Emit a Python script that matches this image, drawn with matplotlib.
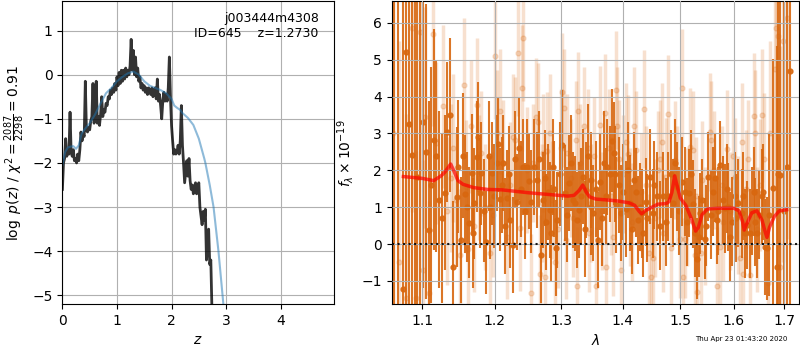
import matplotlib
matplotlib.use("Agg")
import matplotlib.pyplot as plt
from matplotlib.ticker import FixedLocator, FixedFormatter, NullLocator

# ---- left panel: log p(z) ----
z_grid = [0.00, 0.02, 0.04, 0.06, 0.08, 0.10, 0.12, 0.14, 0.16, 0.18,
          0.20, 0.22, 0.24, 0.26, 0.28, 0.30, 0.32, 0.34, 0.36, 0.38,
          0.40, 0.42, 0.44, 0.46, 0.48, 0.50, 0.52, 0.54, 0.56, 0.58,
          0.60, 0.62, 0.64, 0.66, 0.68, 0.70, 0.72, 0.74, 0.76, 0.78,
          0.80, 0.82, 0.84, 0.86, 0.88, 0.90, 0.92, 0.94, 0.96, 0.98,
          1.00, 1.02, 1.04, 1.06, 1.08, 1.10, 1.12, 1.14, 1.16, 1.18,
          1.20, 1.22, 1.24, 1.26, 1.28, 1.30, 1.32, 1.34, 1.36, 1.38,
          1.40, 1.42, 1.44, 1.46, 1.48, 1.50, 1.52, 1.54, 1.56, 1.58,
          1.60, 1.62, 1.64, 1.66, 1.68, 1.70, 1.72, 1.74, 1.76, 1.78,
          1.80, 1.82, 1.84, 1.86, 1.88, 1.90, 1.92, 1.94, 1.96, 1.98,
          2.00, 2.02, 2.04, 2.06, 2.08, 2.10, 2.12, 2.14, 2.16, 2.18,
          2.20, 2.22, 2.24, 2.26, 2.28, 2.30, 2.32, 2.34, 2.36, 2.38,
          2.40, 2.42, 2.44, 2.46, 2.48, 2.50, 2.52, 2.54, 2.56, 2.58,
          2.60, 2.62, 2.64, 2.66, 2.68, 2.70, 2.72, 2.74, 2.76]
logpz = [-2.6, -2.0, -1.9, -1.45, -1.85, -1.7, -1.8, -0.85, -1.75, -1.85,
         -1.7, -1.95, -1.9, -2.0, -1.8, -1.95, -1.7, -1.3, -1.5, -1.35,
         -1.4, -0.15, -1.25, -1.3, -1.2, -1.25, -1.05, -0.95, -0.2, -1.1,
         -1.0, -0.15, -1.1, -0.95, -1.15, -0.9, -0.5, -0.95, -0.8, -0.85,
         -0.65, -0.7, -0.5, -0.55, -0.35, -0.45, -0.3, -0.4, -0.2, -0.35,
         -0.05, -0.25, 0.05, -0.2, 0.1, -0.15, 0.1, -0.1, 0.15, -0.05,
         0.1, 0.0, 0.2, 0.8, 0.1, 0.55, 0.0, 0.4, -0.05, 0.15,
         -0.15, -0.05, -0.3, -0.2, -0.35, -0.25, -0.4, -0.3, -0.45, -0.3,
         -0.35, -0.45, -0.3, -0.5, -0.35, -0.3, -0.55, -0.1, -0.6, -0.45,
         -0.7, -1.0, -0.6, -0.4, -0.6, -0.45, -0.6, -0.3, 0.4, -0.5,
         -1.15, -1.5, -1.8, -1.7, -1.8, -1.75, -1.6, -1.8, -1.5, -0.7,
         -1.6, -2.0, -2.45, -2.2, -1.95, -2.3, -1.9, -2.4, -2.6, -2.5,
         -2.7, -2.55, -2.45, -2.7, -2.55, -2.45, -3.0, -3.2, -3.4, -3.1,
         -3.3, -3.05, -4.2, -3.9, -3.5, -4.3, -4.2, -5.3, -5.6]

z_prior = [0.0, 0.05, 0.1, 0.15, 0.2, 0.25, 0.3, 0.35, 0.4, 0.5, 0.6, 0.7,
           0.8, 0.9, 1.0, 1.1, 1.2, 1.3, 1.4, 1.5, 1.6, 1.7, 1.8, 1.9, 2.0,
           2.05, 2.1, 2.16, 2.2, 2.3, 2.4, 2.5, 2.6, 2.62, 2.7, 2.77, 2.86,
           2.95, 3.0]
logp_prior = [-2.05, -1.75, -1.65, -1.63, -1.62, -1.68, -1.6, -1.35, -1.25,
              -1.1, -0.9, -0.65, -0.42, -0.3, -0.15, -0.05, 0.03, 0.07, 0.0,
              -0.15, -0.25, -0.3, -0.35, -0.42, -0.55, -0.7, -0.75, -0.8,
              -0.87, -0.98, -1.14, -1.45, -1.9, -2.0, -2.5, -3.0, -4.0, -5.2,
              -5.8]

# ---- right panel: spectrum (dark = a, faint = b) ----
wave_a = [1.063, 1.068, 1.0746, 1.0785, 1.0824, 1.0863, 1.090, 1.0929, 1.0965,
          1.1008, 1.1045, 1.1088, 1.1120, 1.1155, 1.1187, 1.1222, 1.1262, 1.1299,
          1.1331, 1.1377, 1.1413, 1.1460, 1.1482, 1.1519, 1.1545, 1.1575, 1.1605,
          1.1635, 1.1669, 1.1710, 1.1747, 1.1785, 1.1809, 1.1845, 1.1881, 1.1914,
          1.1953, 1.1990, 1.2025, 1.2073, 1.2121, 1.2180, 1.2229, 1.2268, 1.2318,
          1.2356, 1.2416, 1.2467, 1.2542, 1.2580, 1.2618, 1.2679, 1.2718, 1.2770,
          1.2821, 1.2847, 1.2890, 1.2934, 1.2975, 1.3018, 1.3054, 1.3122, 1.3185,
          1.3249, 1.3281, 1.3345, 1.3400, 1.3465, 1.3507, 1.3550, 1.3588, 1.3627,
          1.3681, 1.3736, 1.3781, 1.3847, 1.3892, 1.3935, 1.3976, 1.4049, 1.4128,
          1.4185, 1.4259, 1.4317, 1.4391, 1.4461, 1.4508, 1.4578, 1.4640, 1.4695,
          1.4783, 1.4872, 1.4933, 1.5024, 1.5083, 1.5162, 1.5224, 1.5266, 1.5300,
          1.5345, 1.5358, 1.5451, 1.5512, 1.5557, 1.5606, 1.5670, 1.5732, 1.5783,
          1.5827, 1.5890, 1.5955, 1.6019, 1.6083, 1.6149, 1.6213, 1.6258, 1.6311,
          1.6390, 1.6455, 1.6542, 1.6608, 1.6654, 1.6700, 1.6776, 1.6845, 1.6878,
          1.6912, 1.6990, 1.7052, 1.7122,
          1.1690, 1.1765, 1.1930, 1.2050, 1.2100, 1.2150, 1.2200, 1.2290, 1.2390,
          1.2440, 1.2500, 1.2650, 1.2745, 1.2800, 1.2870, 1.2910, 1.3090, 1.3150,
          1.3215, 1.3310, 1.3375, 1.3430, 1.3480, 1.3660, 1.3710, 1.3810, 1.3870,
          1.4010, 1.4090, 1.4160, 1.4220, 1.4290, 1.4350, 1.4420, 1.4540, 1.4740,
          1.4830, 1.4900, 1.4980, 1.5120, 1.5190, 1.5400, 1.5480, 1.5640, 1.5700,
          1.5860, 1.5920, 1.6050, 1.6180, 1.6350, 1.6420, 1.6500, 1.6580]
flux_a = [7.0, -2.5, -1.23, 5.2, 3.26, 2.42, 6.9, 1.83, -1.8,
          3.32, 2.5, 0.38, 1.6, 2.83, 2.39, 1.20, 0.70, 1.39,
          3.05, 3.50, -0.62, 1.27, 2.10, 0.11, 2.4, 1.36, 1.0,
          0.58, 1.92, 1.1, 2.37, 1.38, 1.92, 0.9, 0.05, 2.39,
          1.92, 1.3, 2.19, 1.21, 2.19, 1.24, 0.65, -0.03, 1.15,
          2.60, 2.10, 2.10, 1.15, 2.1, 1.74, -0.30, 1.20, 0.6,
          0.92, 0.29, 1.5, 0.65, 1.9, 2.69, 1.38, 1.65, 1.20,
          0.65, 0.92, 1.83, 1.47, 1.74, 0.83, 1.5, 0.11, 1.69,
          2.21, 2.10, 1.89, 2.46, 1.06, 1.6, 0.83, 0.96, 1.12,
          1.74, 0.65, 0.83, 1.14, 1.83, 0.83, 1.29, 0.5, 1.29,
          1.29, 1.11, 1.56, 1.69, 1.42, 1.39, 1.09, 0.30, -0.4,
          0.20, 0.84, 0.15, 1.83, 0.79, 1.42, 0.65, 2.15, 1.20,
          0.97, 1.01, 0.61, 1.29, 1.11, 0.83, 0.29, 0.52, 0.29,
          1.42, 0.29, 1.29, -0.09, -0.12, 0.8, 1.51, -0.62, 1.9,
          1.88, 0.9, 2.10, 4.70,
          0.3, 2.9, 1.0, 2.7, 1.6, 0.5, 1.9, 2.3, 1.5,
          0.9, 1.7, 2.3, 1.8, 1.4, 2.1, -0.1, 0.8, 2.2,
          1.1, 1.3, 0.4, 2.4, 1.0, 0.7, 1.3, 2.8, 1.9,
          1.4, 2.0, 0.4, 1.4, 1.0, 0.3, 0.7, 1.6, 0.6,
          1.9, 2.2, 0.9, 0.6, 1.9, 1.2, 0.5, 1.8, 0.9,
          1.5, 0.2, 0.7, 1.3, 0.9, 0.6, 0.8, 1.4]
err_a = [12, 12, 12, 12, 12, 12, 12, 12, 12,
         4.5, 4.0, 3.5, 3.2, 3.0, 2.6, 2.4, 2.3, 2.1,
         1.9, 2.1, 1.8, 1.9, 1.8, 1.7, 1.7, 1.6, 1.5,
         1.5, 1.6, 1.5, 1.5, 1.5, 1.4, 1.4, 1.4, 1.5,
         1.4, 1.4, 1.3, 1.4, 1.3, 1.3, 1.3, 1.3, 1.3,
         1.4, 1.3, 1.3, 1.4, 1.3, 1.3, 1.3, 1.3, 1.3,
         1.3, 1.3, 1.3, 1.3, 1.4, 1.5, 1.3, 1.3, 1.3,
         1.3, 1.3, 1.3, 1.3, 1.3, 1.3, 1.3, 1.3, 1.3,
         1.4, 1.3, 1.3, 1.4, 1.3, 1.3, 1.3, 1.3, 1.3,
         1.3, 1.2, 1.2, 1.2, 1.3, 1.2, 1.2, 1.2, 1.2,
         1.2, 1.2, 1.2, 1.2, 1.2, 1.2, 1.2, 1.2, 1.1,
         1.1, 1.1, 1.1, 1.2, 1.2, 1.2, 1.2, 1.2, 1.2,
         1.2, 1.2, 1.2, 1.2, 1.2, 1.2, 1.2, 1.2, 1.2,
         1.2, 1.2, 1.3, 1.3, 1.4, 2.2, 3.5, 6.0, 12,
         12, 12, 12, 12,
         1.5, 1.5, 1.4, 1.3, 1.3, 1.3, 1.3, 1.3, 1.3,
         1.3, 1.3, 1.3, 1.3, 1.3, 1.3, 1.3, 1.3, 1.3,
         1.3, 1.3, 1.3, 1.4, 1.3, 1.3, 1.3, 1.4, 1.3,
         1.3, 1.3, 1.2, 1.2, 1.2, 1.2, 1.2, 1.2, 1.2,
         1.2, 1.2, 1.2, 1.2, 1.2, 1.1, 1.1, 1.2, 1.2,
         1.2, 1.2, 1.2, 1.2, 1.2, 1.2, 1.2, 1.3]

wave_b = [1.0620, 1.0700, 1.0789, 1.0856, 1.0920, 1.0964, 1.1008, 1.1030,
          1.1088, 1.1140, 1.1187, 1.1274, 1.1330, 1.1384, 1.1413, 1.1505,
          1.1565, 1.1588, 1.1620, 1.1668, 1.1746, 1.1809, 1.1860, 1.1926,
          1.2000, 1.2025, 1.2125, 1.2229, 1.2302, 1.2345, 1.2375, 1.2393,
          1.2418, 1.2467, 1.2527, 1.2610, 1.2636, 1.2668, 1.2718, 1.2743,
          1.2779, 1.2860, 1.2950, 1.3010, 1.3040, 1.3073, 1.3095, 1.3150,
          1.3225, 1.3240, 1.3265, 1.3358, 1.3418, 1.3480, 1.3562, 1.3612,
          1.3701, 1.3723, 1.3800, 1.3877, 1.3895, 1.3963, 1.4010, 1.4058,
          1.4081, 1.4150, 1.4231, 1.4300, 1.4355, 1.4449, 1.4480, 1.4522,
          1.4600, 1.4668, 1.4754, 1.4783, 1.4843, 1.4902, 1.4996, 1.5024,
          1.5054, 1.5083, 1.5172, 1.5223, 1.5266, 1.5293, 1.5310, 1.5373,
          1.5399, 1.5546, 1.5572, 1.5670, 1.5732, 1.5766, 1.5860, 1.5930,
          1.6019, 1.6119, 1.6149, 1.6182, 1.6274, 1.6311, 1.6383, 1.6420,
          1.6509, 1.6555, 1.6665, 1.6703, 1.6803, 1.6836, 1.6867, 1.6912,
          1.6968, 1.7052,
          1.1450, 1.1700, 1.1780, 1.1980, 1.2080, 1.2180, 1.2270, 1.2560,
          1.2700, 1.2820, 1.2900, 1.2990, 1.3180, 1.3300, 1.3440, 1.3520,
          1.3650, 1.3760, 1.3840, 1.3930, 1.4120, 1.4190, 1.4400, 1.4560,
          1.4640, 1.4700, 1.4950, 1.5130, 1.5460, 1.5620, 1.5800, 1.5980,
          1.6080, 1.6230, 1.6450, 1.6600]
flux_b = [3.0, -0.5, -1.46, 5.86, -1.47, 5.74, -0.71, 3.44,
          -1.34, 5.70, 2.75, 3.73, 0.9, 1.79, 2.60, -0.30,
          4.32, 1.56, -0.14, 3.19, 3.78, 2.46, 1.0, -0.25,
          5.09, 3.01, 2.21, 1.60, 2.83, 5.18, 0.43, 4.23,
          5.59, 2.01, -1.32, 3.44, 3.30, -0.80, 2.46, -0.89,
          2.51, 1.2, 0.4, 4.11, 3.69, 0.11, 2.46, 1.8,
          2.83, -1.14, 3.61, 3.21, 2.60, 1.1, -1.14, 3.23,
          3.55, -0.62, 1.3, 4.17, 3.19, -0.71, 1.9, 2.78,
          2.45, 0.6, 2.55, 1.4, 3.66, -0.24, -0.89, -0.39,
          2.0, 2.78, 1.83, 3.52, -0.12, 2.28, 0.15, 4.23,
          -0.89, 0.15, 2.64, 2.55, -0.30, 1.29, -1.31, -0.25,
          1.74, 3.05, 2.83, -1.14, -0.07, 1.60, 2.57, 0.9,
          1.83, -0.39, 2.78, -0.80, 2.30, -0.84, 3.48, 3.02,
          1.60, 3.49, -1.05, 3.01, 4.75, 5.86, 5.65, -0.62,
          5.50, 6.13,
          1.2, 0.5, 1.8, 0.8, 3.6, 0.2, 2.9, 2.2,
          1.1, 3.0, -0.5, 2.6, 0.7, 2.2, 0.3, 2.4,
          0.9, 2.6, 0.2, 2.3, 1.0, 3.2, 1.6, 0.7,
          2.3, 0.3, 1.6, 1.0, 0.5, 2.0, 0.6, 2.4,
          0.8, 1.5, 0.4, 2.3]
err_b = [6, 6, 5, 5, 4, 4, 3, 3,
         2.5, 2.5, 2.2, 2.2, 2.0, 2.0, 2.0, 1.8,
         1.8, 1.8, 1.8, 1.8, 1.8, 1.7, 1.7, 1.7,
         1.7, 1.7, 1.7, 1.7, 1.7, 1.7, 1.7, 1.7,
         1.7, 1.7, 1.6, 1.6, 1.6, 1.6, 1.6, 1.6,
         1.6, 1.6, 1.6, 1.6, 1.6, 1.6, 1.6, 1.6,
         1.6, 1.6, 1.6, 1.6, 1.6, 1.6, 1.6, 1.6,
         1.6, 1.6, 1.6, 1.6, 1.6, 1.6, 1.6, 1.6,
         1.6, 1.6, 1.6, 1.6, 1.6, 1.6, 1.6, 1.6,
         1.6, 1.6, 1.6, 1.6, 1.6, 1.6, 1.6, 1.6,
         1.6, 1.6, 1.6, 1.6, 1.6, 1.6, 1.6, 1.6,
         1.6, 1.6, 1.6, 1.6, 1.6, 1.6, 1.6, 1.6,
         1.6, 1.6, 1.6, 1.6, 1.6, 1.6, 1.7, 1.7,
         1.8, 1.8, 2.0, 2.5, 4, 5, 6, 6,
         6, 6,
         1.8, 1.8, 1.7, 1.7, 1.7, 1.7, 1.7, 1.6,
         1.6, 1.6, 1.6, 1.6, 1.6, 1.6, 1.6, 1.6,
         1.6, 1.6, 1.6, 1.6, 1.6, 1.6, 1.6, 1.6,
         1.6, 1.6, 1.6, 1.6, 1.6, 1.6, 1.6, 1.6,
         1.6, 1.6, 1.7, 1.8]

wave_model = [1.075, 1.09, 1.10, 1.115, 1.125, 1.13, 1.138, 1.142, 1.148,
              1.155, 1.17, 1.19, 1.21, 1.23, 1.25, 1.27, 1.29, 1.31, 1.32,
              1.328, 1.334, 1.34, 1.345, 1.355, 1.37, 1.39, 1.41, 1.42,
              1.428, 1.432, 1.438, 1.45, 1.46, 1.475, 1.48, 1.485, 1.49,
              1.494, 1.50, 1.51, 1.52, 1.528, 1.533, 1.54, 1.55, 1.57,
              1.60, 1.61, 1.617, 1.62, 1.625, 1.635, 1.645, 1.655, 1.662,
              1.665, 1.67, 1.68, 1.69, 1.705]
flux_model = [1.83, 1.80, 1.78, 1.72, 1.85, 1.95, 2.17, 2.0, 1.72,
              1.62, 1.53, 1.48, 1.47, 1.43, 1.39, 1.36, 1.33, 1.30, 1.32,
              1.45, 1.6, 1.4, 1.28, 1.22, 1.2, 1.17, 1.12, 1.05,
              0.88, 0.82, 0.9, 1.0, 1.08, 1.1, 1.15, 1.4, 1.85,
              1.6, 1.25, 1.05, 0.7, 0.35, 0.45, 0.8, 0.95, 0.97,
              0.97, 0.9, 0.6, 0.38, 0.55, 0.85, 0.9, 0.65, 0.3,
              0.18, 0.45, 0.75, 0.9, 0.93]

wave_ticks = [1.1, 1.2, 1.3, 1.4, 1.5, 1.6, 1.7]

orange = "#d8670f"

fig = plt.figure(figsize=(8, 3.5), dpi=100)

# --- p(z) ---
ax = fig.add_axes([0.078, 0.131, 0.339, 0.865])
ax.plot(z_grid, logpz, color="k", alpha=0.8, lw=2)
ax.plot(z_prior, logp_prior, color="#1f77b4", alpha=0.5, lw=1.5)
ax.set_xlim(0, 4.97)
ax.set_ylim(-5.2, 1.66)
ax.set_xticks([0, 1, 2, 3, 4])
ax.set_yticks([-5, -4, -3, -2, -1, 0, 1])
ax.grid(True)
ax.set_xlabel(r"$z$")
ax.set_ylabel(r"$\log\ p(z)$ / $\chi^2=\frac{2087}{2298}=0.91$")
ax.text(0.945, 0.965, "j003444m4308\nID=645    z=1.2730", transform=ax.transAxes,
        ha="right", va="top", fontsize=9)

# --- spectrum ---
axs = fig.add_axes([0.4896, 0.131, 0.5095, 0.865])
axs.set_xscale("log")
axs.errorbar(wave_b, flux_b, yerr=err_b, marker="o", ms=3.5, linestyle="none",
             color=orange, alpha=0.2, elinewidth=2.5, zorder=1)
axs.errorbar(wave_a, flux_a, yerr=err_a, marker="o", ms=3.5, linestyle="none",
             color=orange, alpha=0.9, elinewidth=1.5, zorder=1.6)
axs.plot(wave_model, flux_model, color="r", alpha=0.7, lw=2.5, zorder=3)
axs.axhline(0, color="k", linestyle=":", lw=1.5, alpha=0.9, zorder=3)
axs.set_xlim(1.06, 1.731)
axs.set_ylim(-1.63, 6.58)
axs.xaxis.set_major_locator(FixedLocator(wave_ticks))
axs.xaxis.set_major_formatter(FixedFormatter([f"{w:.1f}" for w in wave_ticks]))
axs.xaxis.set_minor_locator(NullLocator())
axs.set_yticks([-1, 0, 1, 2, 3, 4, 5, 6])
axs.grid(True, zorder=2)
axs.set_axisbelow(False)
axs.set_xlabel(r"$\lambda$")
axs.set_ylabel(r"$f_\lambda\times10^{-19}$")

fig.text(0.984, 0.022, "Thu Apr 23 01:43:20 2020", ha="right", va="bottom",
         fontsize=5)

fig.savefig("out.png", dpi=100)
